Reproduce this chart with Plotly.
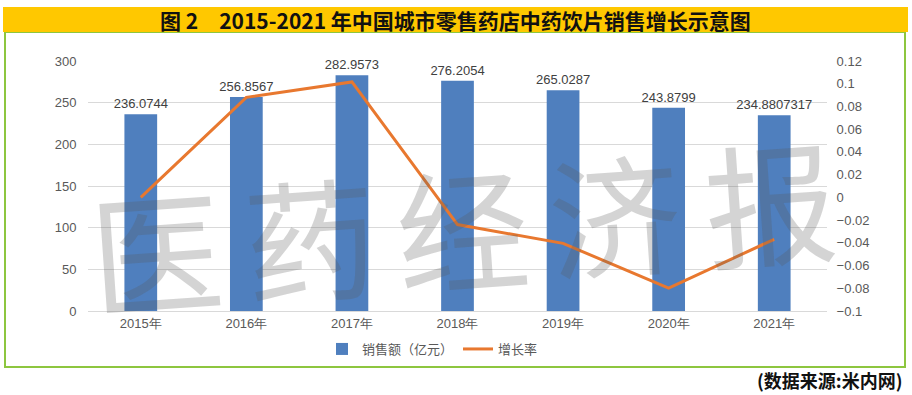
import plotly.graph_objects as go

years = ["2015年", "2016年", "2017年", "2018年", "2019年", "2020年", "2021年"]
sales = [236.0744, 256.8567, 282.9573, 276.2054, 265.0287, 243.8799, 234.8807317]
sales_labels = ["236.0744", "256.8567", "282.9573", "276.2054", "265.0287", "243.8799", "234.8807317"]
growth = [0.0, 0.088, 0.1016, -0.0239, -0.0405, -0.0798, -0.0369]

W, H = 912, 395
L, R, T, B = 88, 827, 61, 311  # plot area in pixels


def px(x):
    return (x - L) / (R - L)


def py(y):
    return (B - y) / (B - T)


fig = go.Figure()
fig.add_trace(go.Bar(
    x=years, y=sales, name="销售额（亿元）",
    marker=dict(color="#4F7FBE", line=dict(width=0)),
    width=0.31,
    text=sales_labels, textposition="outside", cliponaxis=False,
    constraintext="none",
    textfont=dict(size=13, color="#404040", family="Liberation Sans"),
    yaxis="y",
))
fig.add_trace(go.Scatter(
    x=years, y=growth, name="增长率", mode="lines",
    line=dict(color="#E8782F", width=3),
    yaxis="y2",
))

shapes = [
    dict(type="rect", xref="paper", yref="paper",
         x0=px(5), x1=px(905), y0=py(367), y1=py(32),
         line=dict(color="#8DC63F", width=2), fillcolor="rgba(0,0,0,0)", layer="below"),
    dict(type="rect", xref="paper", yref="paper",
         x0=px(3), x1=px(908), y0=py(32), y1=py(7),
         line=dict(width=0), fillcolor="#FFC800", layer="below"),
]

annotations = [
    dict(text="<b>图 2　2015-2021 年中国城市零售药店中药饮片销售增长示意图</b>",
         xref="paper", yref="paper", x=px(455), y=py(20), showarrow=False,
         xanchor="center", yanchor="middle",
         font=dict(size=21, color="#111111", family="Noto Sans CJK SC")),
    dict(text="<b>(数据来源:米内网)</b>",
         xref="paper", yref="paper", x=px(904), y=py(380), showarrow=False,
         xanchor="right", yanchor="middle",
         font=dict(size=18, color="#111111", family="Noto Sans CJK SC")),
]

wm_chars = ["医", "药", "经", "济", "报"]
wm_x = [156, 310, 462, 614, 770]
wm_y = [246, 234, 224, 210, 198]
for ch, xx, yy in zip(wm_chars, wm_x, wm_y):
    annotations.append(dict(
        text=ch, xref="paper", yref="paper", x=px(xx), y=py(yy), showarrow=False,
        xanchor="center", yanchor="middle", textangle=-4,
        font=dict(size=132, color="rgba(90,90,90,0.26)", family="Noto Sans CJK SC"),
    ))

fig.update_layout(
    width=W, height=H,
    margin=dict(l=L, r=W - R, t=T, b=H - B),
    paper_bgcolor="white", plot_bgcolor="white",
    showlegend=True,
    legend=dict(orientation="h", x=px(322), y=py(349), xanchor="left", yanchor="middle",
                font=dict(size=13, color="#595959", family="Noto Sans CJK SC"),
                bgcolor="rgba(0,0,0,0)", itemwidth=30, tracegroupgap=0),
    xaxis=dict(showgrid=False, showline=True, linecolor="#D9D9D9",
               tickfont=dict(size=13, color="#595959", family="Liberation Sans"),
               ticks="", fixedrange=True),
    yaxis=dict(range=[0, 300], dtick=50, showgrid=True, gridcolor="#D9D9D9", gridwidth=1,
               zeroline=False, showline=False,
               ticks="outside", ticklen=8, tickcolor="rgba(0,0,0,0)",
               tickfont=dict(size=13, color="#595959", family="Liberation Sans")),
    yaxis2=dict(range=[-0.1, 0.12], dtick=0.02, overlaying="y", side="right",
                showgrid=False, zeroline=False, showline=False,
                ticks="outside", ticklen=6, tickcolor="rgba(0,0,0,0)",
                tickformat="~g",
                tickfont=dict(size=13, color="#595959", family="Liberation Sans")),
    shapes=shapes,
    annotations=annotations,
    bargap=0.69,
)

fig.write_html("out.html", config={"displayModeBar": False},
               post_script="document.body.style.margin='0';document.body.style.overflow='hidden';")
